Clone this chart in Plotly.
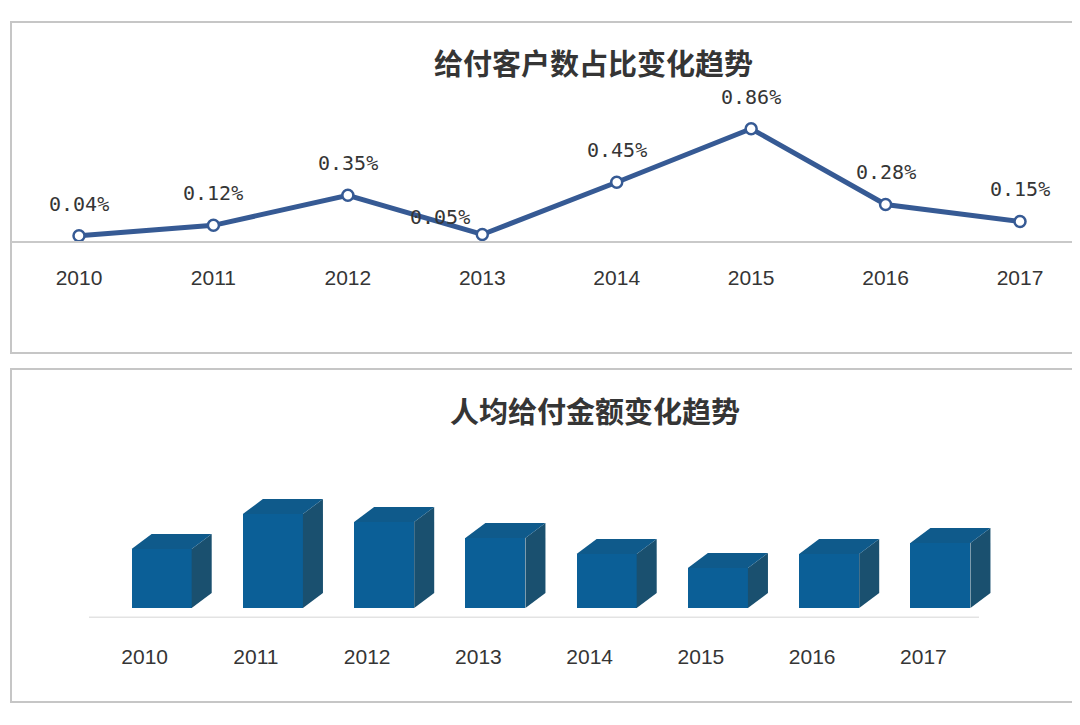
import plotly.graph_objects as go

# ---------------- data ----------------
years = ["2010", "2011", "2012", "2013", "2014", "2015", "2016", "2017"]
share_pct = [0.04, 0.12, 0.35, 0.05, 0.45, 0.86, 0.28, 0.15]   # 给付客户数占比 (%)
per_capita = [59, 94, 86, 70, 54, 40, 54, 65]                  # 人均给付金额 (relative)

title_top = "给付客户数占比变化趋势"
title_bottom = "人均给付金额变化趋势"

# ---------------- style ----------------
W, H = 1080, 725
OFF = 8  # page margin of the html body
LINE_COLOR = "#365a94"
FRONT = "#0b5f97"
TOP = "#0f5a8b"
SIDE = "#1a506f"
TXT = "#353535"
label_xshift = [0, 0, 0, -42, 0, 0, 0, 0]
label_yshift = [32, 32, 32, 17, 32, 32, 32, 32]

idx = list(range(len(years)))

def py(p):  # target pixel y -> paper y
    return 1 - (p - OFF) / H

def px(p):
    return (p - OFF) / W

fig = go.Figure()

# ---- top panel: line chart ----
fig.add_trace(go.Scatter(
    x=idx, y=share_pct, mode="lines+markers",
    line=dict(color=LINE_COLOR, width=5),
    marker=dict(size=11, color="white", line=dict(color=LINE_COLOR, width=2.5)),
    cliponaxis=False, xaxis="x", yaxis="y", showlegend=False, hoverinfo="skip",
))

annotations = []
for i, v in enumerate(share_pct):
    annotations.append(dict(
        x=i, y=v, xref="x", yref="y", text=f"{v:.2f}%", showarrow=False,
        xshift=label_xshift[i], yshift=label_yshift[i],
        font=dict(family="DejaVu Sans Mono", size=20, color=TXT),
    ))

# ---- bottom panel: pseudo-3D bars ----
bar_w = 0.54
bar_off = -0.117
dx = 0.18
dy = 15

fig.add_trace(go.Bar(
    x=idx, y=per_capita, width=bar_w, offset=bar_off,
    marker=dict(color=FRONT, line=dict(width=0)),
    xaxis="x2", yaxis="y2", showlegend=False, hoverinfo="skip",
))
for i, v in zip(idx, per_capita):
    xl = i + bar_off
    xr = xl + bar_w
    # side face
    fig.add_trace(go.Scatter(
        x=[xr, xr + dx, xr + dx, xr, xr], y=[0, dy, v + dy, v, 0],
        mode="lines", fill="toself", fillcolor=SIDE, line=dict(width=0, color=SIDE),
        xaxis="x2", yaxis="y2", showlegend=False, hoverinfo="skip",
    ))
    # top face
    fig.add_trace(go.Scatter(
        x=[xl, xl + dx, xr + dx, xr, xl], y=[v, v + dy, v + dy, v, v],
        mode="lines", fill="toself", fillcolor=TOP, line=dict(width=0, color=TOP),
        xaxis="x2", yaxis="y2", showlegend=False, hoverinfo="skip",
    ))

# titles
annotations.append(dict(x=px(593), y=py(62), xref="paper", yref="paper", text=f"<b>{title_top}</b>",
                        xanchor="center", yanchor="middle", showarrow=False,
                        font=dict(family="Noto Sans CJK SC", size=29, color=TXT)))
annotations.append(dict(x=px(595), y=py(410), xref="paper", yref="paper", text=f"<b>{title_bottom}</b>",
                        xanchor="center", yanchor="middle", showarrow=False,
                        font=dict(family="Noto Sans CJK SC", size=29, color=TXT)))

# panel borders and floor line
shapes = [
    dict(type="rect", xref="paper", yref="paper", x0=px(11), x1=1.02, y0=py(353), y1=py(22),
         line=dict(color="#c6c6c6", width=2), fillcolor="rgba(0,0,0,0)", layer="below"),
    dict(type="rect", xref="paper", yref="paper", x0=px(11), x1=1.02, y0=py(702), y1=py(369),
         line=dict(color="#c6c6c6", width=2), fillcolor="rgba(0,0,0,0)", layer="below"),
    dict(type="line", xref="x2", yref="y2", x0=-0.5, x1=len(years) - 0.5, y0=-10, y1=-10,
         line=dict(color="#e3e3e3", width=3), layer="below"),
]

top_x0 = 11
step_top = 134.43
ax_left = -(79 - top_x0) / step_top
ax_right = ax_left + (W - (top_x0 - OFF)) / step_top

step_bot = 111.25
bot_x0 = 89
bot_right = len(years) - 0.2
bot_x1 = bot_x0 + (bot_right + 0.5) * step_bot

tick_font = dict(family="Liberation Sans", size=21, color=TXT)

fig.update_layout(
    width=W, height=H, margin=dict(l=0, r=0, t=0, b=0),
    paper_bgcolor="white", plot_bgcolor="rgba(0,0,0,0)",
    bargap=0,
    xaxis=dict(domain=[px(top_x0), 1], range=[ax_left, ax_right], tickvals=idx, ticktext=years,
               showgrid=False, zeroline=False, showline=True, linecolor="#c9c9c9", linewidth=2,
               ticks="outside", ticklen=17, tickcolor="rgba(0,0,0,0)", tickfont=tick_font,
               anchor="y", fixedrange=True),
    yaxis=dict(domain=[py(241), py(90)], range=[0, (241 - 90) / 130.5], visible=False,
               anchor="x", fixedrange=True),
    xaxis2=dict(domain=[px(bot_x0), px(bot_x1)], range=[-0.5, bot_right], tickvals=idx, ticktext=years,
                showgrid=False, zeroline=False, showline=False,
                ticks="outside", ticklen=20, tickcolor="rgba(0,0,0,0)", tickfont=tick_font,
                anchor="y2", fixedrange=True),
    yaxis2=dict(domain=[py(618), py(470)], range=[-10, 138], visible=False,
                anchor="x2", fixedrange=True),
    annotations=annotations,
    shapes=shapes,
)

fig.write_html("out.html")
